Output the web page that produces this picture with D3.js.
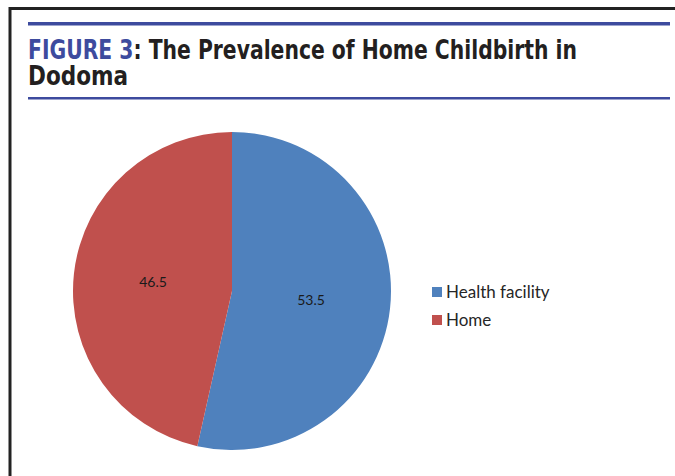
<!DOCTYPE html>
<html>
  <head>
    <title>Home Childbirth in Dodoma</title>
    <script src="https://cdnjs.cloudflare.com/ajax/libs/d3/7.8.5/d3.min.js"></script>
  <style>
body
{
  margin: 0;
  background: white;
}
  </style>
  </head>
  <body>
    <div id="chart"></div>
<script>
var categories = ['Health facility', 'Home'];
var values = [53.5, 46.5];
var colors = ['#4F81BD', '#C0504D'];

var width = 675,
  height = 476;

var svg = d3.select('#chart').append('svg')
  .attr('width', width)
  .attr('height', height);

// frame
svg.append('line').attr('x1', 10).attr('y1', 8.5).attr('x2', width).attr('y2', 8.5)
  .style('stroke', '#222').style('stroke-width', 3);
svg.append('line').attr('x1', 10).attr('y1', 7).attr('x2', 10).attr('y2', height)
  .style('stroke', '#222').style('stroke-width', 3);

// title rules
svg.append('rect').attr('x', 28).attr('y', 22).attr('width', 642).attr('height', 3.5)
  .style('fill', '#3D4B9E');
svg.append('rect').attr('x', 28).attr('y', 97).attr('width', 642).attr('height', 2.5)
  .style('fill', '#3D4B9E');

var titleFont = '"Liberation Sans Narrow", "DejaVu Sans Condensed", sans-serif';
var title = svg.append('text')
  .attr('x', 28).attr('y', 59)
  .attr('textLength', 549).attr('lengthAdjust', 'spacingAndGlyphs')
  .style('font-family', titleFont)
  .style('font-weight', 'bold')
  .style('font-size', '27px')
  .style('fill', '#231F20');
title.append('tspan').style('fill', '#3D4B9E').text('FIGURE 3');
title.append('tspan').text(': The Prevalence of Home Childbirth in');
svg.append('text')
  .attr('x', 28).attr('y', 85)
  .attr('textLength', 100).attr('lengthAdjust', 'spacingAndGlyphs')
  .style('font-family', titleFont)
  .style('font-weight', 'bold')
  .style('font-size', '27px')
  .style('fill', '#231F20')
  .text('Dodoma');

// pie
var cx = 232, cy = 291, r = 159;
var pie = d3.pie().sort(null).value(function(d) { return d; });
var arc = d3.arc().innerRadius(0).outerRadius(r);
var labelArc = d3.arc().innerRadius(r * 0.5).outerRadius(r * 0.5);
var color = d3.scaleOrdinal().domain(categories).range(colors);

var g = svg.append('g').attr('transform', 'translate(' + cx + ',' + cy + ')');
var slices = pie(values);
g.selectAll('path').data(slices).enter().append('path')
  .attr('d', arc)
  .style('fill', function(d, i) { return color(categories[i]); });

g.selectAll('text').data(slices).enter().append('text')
  .attr('transform', function(d) {
    var c = labelArc.centroid(d);
    return 'translate(' + c[0] + ',' + (c[1] + 5) + ')';
  })
  .attr('text-anchor', 'middle')
  .style('font-family', 'Lato, "Open Sans", sans-serif')
  .style('font-size', '14px')
  .style('fill', '#1a1a1a')
  .text(function(d) { return d.data; });

// legend
var legend = svg.append('g').attr('transform', 'translate(432,287)');
var items = legend.selectAll('g').data(categories).enter().append('g')
  .attr('transform', function(d, i) { return 'translate(0,' + (i * 28) + ')'; });
items.append('rect')
  .attr('width', 10).attr('height', 10)
  .style('fill', function(d) { return color(d); });
items.append('text')
  .attr('x', 14).attr('y', 11)
  .style('font-family', 'Lato, "Open Sans", sans-serif')
  .style('font-size', '17px')
  .style('fill', '#262626')
  .text(function(d) { return d; });
</script>
  </body>
</html>
